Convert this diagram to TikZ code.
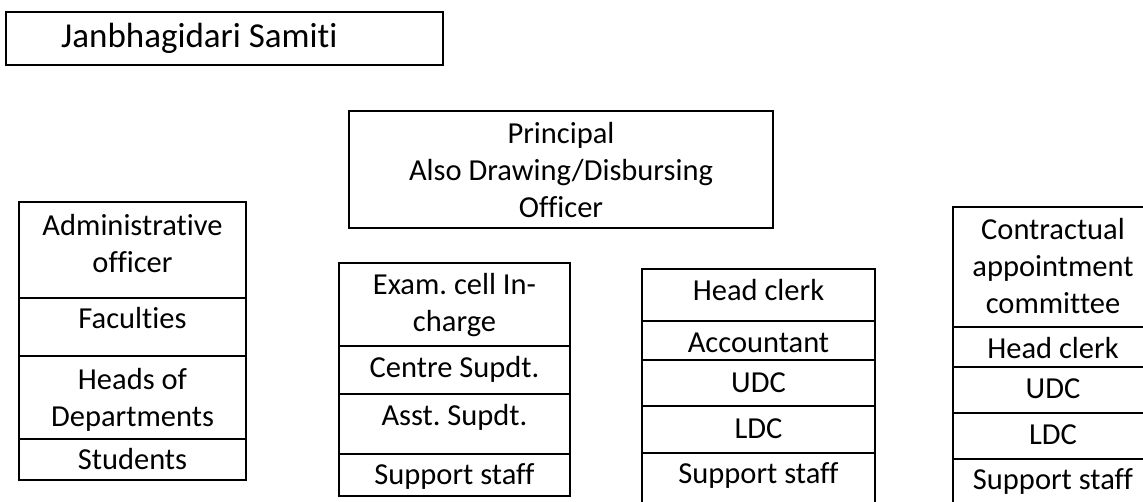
\documentclass[tikz,border=0pt]{standalone}
\usepackage{fontspec}
\setmainfont{Carlito}[Ligatures=NoCommon]
\frenchspacing
\begin{document}
\begin{tikzpicture}[x=1pt,y=-1pt,
  box/.style={draw=black,line width=1.6pt},
  txt/.style={font=\fontsize{30.5}{37}\selectfont\frenchspacing,inner sep=0pt,anchor=base,align=center},
  ttl/.style={font=\fontsize{35}{42}\selectfont,inner sep=0pt,anchor=base west}]
\useasboundingbox (0,0) rectangle (1143,501);
\fill[white] (0,0) rectangle (1143,501);
\clip (0,0) rectangle (1143,501);

% Title
\draw[box] (6,12) rectangle (443,65);
\node[ttl] (jan) at (61,47) {Janbhagidari Samiti};

% Principal (anchor = baseline of last line)
\draw[box] (349,111) rectangle (773,228);
\node[txt] (prin) at (561,217) {Principal\\Also Drawing/Disbursing\\Officer};

% Left column
\draw[box] (19,202) rectangle (246,480);
\draw[box] (19,298) -- (246,298) (19,356) -- (246,356) (19,439) -- (246,439);
\node[txt] (adm) at (132.5,272) {Administrative\\officer};
\node[txt] (fac) at (132.5,328) {Faculties};
\node[txt] (hod) at (132.5,426) {Heads of\\Departments};
\node[txt] (stu) at (132.5,469) {Students};

% Exam column
\draw[box] (339,263) rectangle (570,496);
\draw[box] (339,346) -- (570,346) (339,394) -- (570,394) (339,454) -- (570,454);
\node[txt] (exam) at (454.5,331) {Exam. cell In-\\charge};
\node[txt] (cs) at (454.5,377) {Centre Supdt.};
\node[txt] (as) at (454.5,425) {Asst. Supdt.};
\node[txt] (ss1) at (454.5,484) {Support staff};

% Head clerk column
\draw[box] (642,269) rectangle (875,520);
\draw[box] (642,321) -- (875,321) (642,360) -- (875,360) (642,406) -- (875,406) (642,453) -- (875,453);
\node[txt] (hc1) at (758.5,300) {Head clerk};
\node[txt] (acc) at (758.5,352) {Accountant};
\node[txt] (udc1) at (758.5,392) {UDC};
\node[txt] (ldc1) at (758.5,438) {LDC};
\node[txt] (ss2) at (758.5,483) {Support staff};

% Right column
\draw[box] (953,207) rectangle (1153,520);
\draw[box] (953,327) -- (1153,327) (953,367) -- (1153,367) (953,413) -- (1153,413) (953,459) -- (1153,459);
\node[txt] (cac) at (1053,313) {Contractual\\appointment\\committee};
\node[txt] (hc2) at (1053,358) {Head clerk};
\node[txt] (udc2) at (1053,398) {UDC};
\node[txt] (ldc2) at (1053,444) {LDC};
\node[txt] (ss3) at (1053,489) {Support staff};
\end{tikzpicture}
\end{document}
